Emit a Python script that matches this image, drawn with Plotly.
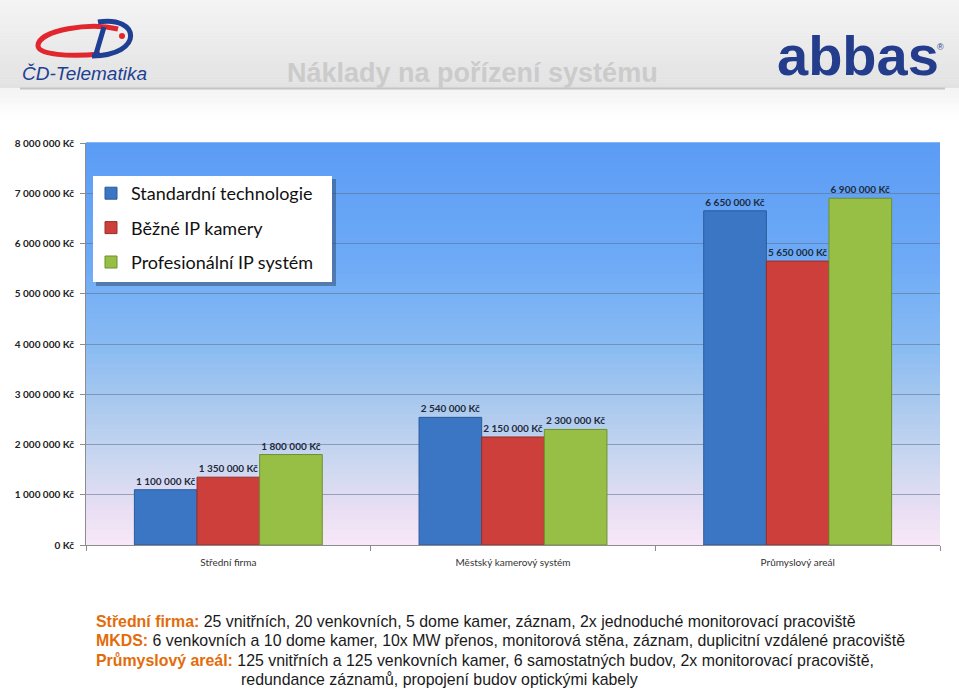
import plotly.graph_objects as go

categories = ["Střední firma", "Městský kamerový systém", "Průmyslový areál"]
series_names = ["Standardní technologie", "Běžné IP kamery", "Profesionální IP systém"]
standard = [1100000, 2540000, 6650000]
bezne_ip = [1350000, 2150000, 5650000]
profi_ip = [1800000, 2300000, 6900000]
y_ticks = [0, 1000000, 2000000, 3000000, 4000000, 5000000, 6000000, 7000000, 8000000]


def fmt_kc(v):
    return "{:,.0f}".format(v).replace(",", " ") + " Kč"


y_ticktext = [fmt_kc(v) for v in y_ticks]

W, H = 959, 689
L, R, T, B = 86, 19, 143, 144
PW, PH = W - L - R, H - T - B


def px(x):
    return (x - L) / PW


def py(y):
    return (H - B - y) / PH


def lerp_color(stops, t):
    for i in range(len(stops) - 1):
        t0, c0 = stops[i]
        t1, c1 = stops[i + 1]
        if t0 <= t <= t1:
            f = (t - t0) / (t1 - t0) if t1 > t0 else 0
            c = [int(round(c0[k] + (c1[k] - c0[k]) * f)) for k in range(3)]
            return "rgb(%d,%d,%d)" % tuple(c)
    c = stops[-1][1]
    return "rgb(%d,%d,%d)" % tuple(c)


def hx(h):
    h = h.lstrip("#")
    return [int(h[i:i + 2], 16) for i in (0, 2, 4)]


bar_colors = ["#3b76c4", "#cc3f3a", "#98bf45"]
line_colors = ["#2a5a9a", "#9a2e2a", "#6f8f30"]
FONT = "Lato, 'Noto Sans', sans-serif"

fig = go.Figure()
for name, vals, c, lc in zip(series_names, [standard, bezne_ip, profi_ip], bar_colors, line_colors):
    fig.add_trace(go.Bar(
        name=name, x=categories, y=vals,
        marker=dict(color=c, line=dict(color=lc, width=1)),
        text=[fmt_kc(v) for v in vals], texttemplate="<b>%{text}</b>", textposition="outside",
        textfont=dict(family=FONT, size=10, color="#1d2b3d"),
        constraintext="none", cliponaxis=False,
        legendgroup=name,
    ))

shapes = []
# plot background gradient
stops = [(0.0, hx("#f8e8f8")), (0.08, hx("#eadff4")), (0.2, hx("#ccd8f0")),
         (0.35, hx("#aac9ee")), (0.5, hx("#88bbf3")), (0.7, hx("#6eaaf6")),
         (1.0, hx("#5b9cf5"))]
N = 80
for i in range(N):
    y0 = i / N
    y1 = (i + 1) / N
    shapes.append(dict(type="rect", xref="x domain", yref="y domain", x0=0, x1=1,
                       y0=y0, y1=y1 + 0.002, line=dict(width=0),
                       fillcolor=lerp_color(stops, (y0 + y1) / 2), layer="below"))

# header gradient
hstops = [(0.0, hx("#e2e2e2")), (0.5, hx("#ebebeb")), (1.0, hx("#f4f4f4"))]
HN = 30
for i in range(HN):
    a = i * 88 / HN
    b = (i + 1) * 88 / HN
    shapes.append(dict(type="rect", xref="paper", yref="paper", x0=px(0), x1=px(W),
                       y0=py(b + 0.5), y1=py(a), line=dict(width=0),
                       fillcolor=lerp_color(hstops, 1 - (a + b) / 2 / 88), layer="below"))
for i in range(10):
    a = 88 + i * 3
    shapes.append(dict(type="rect", xref="paper", yref="paper", x0=px(0), x1=px(W),
                       y0=py(a + 3.5), y1=py(a), line=dict(width=0),
                       fillcolor=lerp_color([(0, hx("#f4f4f4")), (1, hx("#ffffff"))], i / 10),
                       layer="below"))
shapes.append(dict(type="line", xref="paper", yref="paper", x0=px(20), x1=px(945),
                   y0=py(88.5), y1=py(88.5), line=dict(color="#c4c4c4", width=2)))

# legend box with shadow
shapes.append(dict(type="rect", xref="paper", yref="paper", x0=px(96), x1=px(336),
                   y0=py(286), y1=py(179), line=dict(width=0),
                   fillcolor="rgba(40,60,90,0.45)", layer="above"))
shapes.append(dict(type="rect", xref="paper", yref="paper", x0=px(93), x1=px(332),
                   y0=py(282), y1=py(176), line=dict(width=0),
                   fillcolor="#ffffff", layer="above"))


def curve(cmds):
    out = []
    for cmd in cmds:
        letter = cmd[0]
        pts = cmd[1:]
        out.append(letter + " ".join("%f,%f" % (px(x), py(y)) for x, y in pts))
    return " ".join(out)


red_arc = curve([("M", (118, 29)), ("C", (90, 22), (40, 30), (38, 45)),
                 ("C", (37, 55), (70, 57), (100, 54))])
shapes.append(dict(type="path", xref="paper", yref="paper", path=red_arc,
                   line=dict(color="#e1262d", width=5), layer="above"))
blue_d = curve([("M", (98, 22)), ("C", (140, 15), (145, 55), (92, 56)),
                ("M", (104, 27)), ("L", (96, 54))])
shapes.append(dict(type="path", xref="paper", yref="paper", path=blue_d,
                   line=dict(color="#1e3f93", width=5), layer="above"))
shapes.append(dict(type="circle", xref="paper", yref="paper", x0=px(119), x1=px(125),
                   y0=py(39), y1=py(33), fillcolor="#e1262d", line=dict(width=0)))

annotations = []
annotations.append(dict(text="<i>ČD-Telematika</i>", x=px(20), y=py(73), xref="paper", yref="paper",
                        xanchor="left", yanchor="middle", showarrow=False,
                        font=dict(family="'Liberation Sans', Arial", size=19,
                                  color="#1e3f93")))
annotations.append(dict(text="<b>abbas</b>", x=px(775), y=py(56), xref="paper", yref="paper",
                        xanchor="left", yanchor="middle", showarrow=False,
                        font=dict(family="'Liberation Sans', Arial", size=56,
                                  color="#233d8c")))
annotations.append(dict(text="®", x=px(935), y=py(47), xref="paper", yref="paper",
                        xanchor="left", yanchor="middle", showarrow=False,
                        font=dict(family="'Liberation Sans'", size=9, color="#233d8c")))
annotations.append(dict(text="<b>Náklady na pořízení systému</b>", x=px(472), y=py(73),
                        xref="paper", yref="paper", xanchor="center", yanchor="middle",
                        showarrow=False,
                        font=dict(family="'Liberation Sans', Arial", size=27,
                                  color="#cbcbcb")))

OR = "#e36c0a"
desc = [
    (94, 621, "<b><span style='color:%s'>Střední firma:</span></b> 25 vnitřních, 20 venkovních, 5 dome kamer, záznam, 2x jednoduché monitorovací pracoviště" % OR),
    (94, 640, "<b><span style='color:%s'>MKDS:</span></b> 6 venkovních a 10 dome kamer, 10x MW přenos, monitorová stěna, záznam, duplicitní vzdálené pracoviště" % OR),
    (94, 660, "<b><span style='color:%s'>Průmyslový areál:</span></b> 125 vnitřních a 125 venkovních kamer, 6 samostatných budov, 2x monitorovací pracoviště," % OR),
    (239, 679, "redundance záznamů, propojení budov optickými kabely"),
]
for x, y, t in desc:
    annotations.append(dict(text=t, x=px(x), y=py(y), xref="paper", yref="paper",
                            xanchor="left", yanchor="middle", showarrow=False,
                            font=dict(family="'Liberation Sans', Arial", size=15.9,
                                      color="#1a1a1a")))

fig.update_layout(
    width=W, height=H,
    margin=dict(l=L, r=R, t=T, b=B, pad=0),
    paper_bgcolor="#ffffff", plot_bgcolor="#ffffff",
    barmode="group", bargap=0.34, bargroupgap=0,
    separators=", ",
    shapes=shapes, annotations=annotations,
    showlegend=True,
    legend=dict(x=px(91), y=py(175), xanchor="left", yanchor="top",
                bgcolor="rgba(0,0,0,0)", borderwidth=0,
                font=dict(family=FONT, size=18, color="#111111"),
                traceorder="grouped", tracegroupgap=8),
    xaxis=dict(showgrid=False, showline=True, linecolor="#8c8c8c", linewidth=1,
               ticks="outside", tickson="boundaries", ticklen=5, tickcolor="#8c8c8c",
               tickfont=dict(family=FONT, size=10, color="#333333"), ticklabelstandoff=8),
    yaxis=dict(range=[0, 8000000], tickmode="array", tickvals=y_ticks, ticktext=y_ticktext,
               showgrid=True, gridcolor="rgba(95,110,135,0.55)", gridwidth=1,
               showline=True, linecolor="#8c8c8c", linewidth=1, zeroline=False,
               ticks="outside", ticklen=5, tickcolor="#8c8c8c",
               tickfont=dict(family=FONT, size=10, color="#222222", weight="bold"),
               ticklabelstandoff=4),
)

fig.write_html("out.html")
